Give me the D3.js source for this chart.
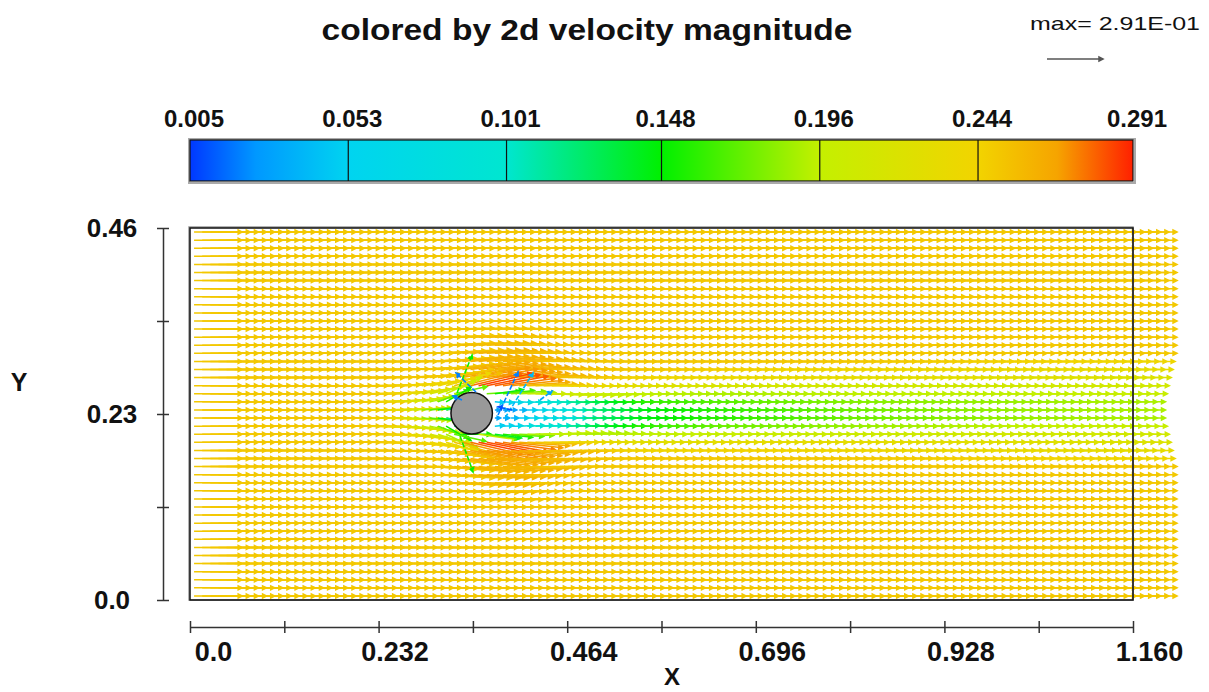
<!DOCTYPE html>
<html>
<head>
<meta charset="utf-8">
<script src="https://cdn.jsdelivr.net/npm/d3@7"></script>
<style>
body { margin: 0; background: #fff; }
svg text { font-family: "Liberation Sans", Arial, Helvetica, sans-serif; font-weight: bold; fill: #111; }
</style>
</head>
<body>
<div id="chart"></div>
<script>
// colour legend
var legendValues = [0.005, 0.053, 0.101, 0.148, 0.196, 0.244, 0.291];
var legendLabels = ["0.005", "0.053", "0.101", "0.148", "0.196", "0.244", "0.291"];
var colorStops = [0.005, 0.025, 0.053, 0.101, 0.148, 0.196, 0.244, 0.268, 0.291];
var colorList = ["#0038ff", "#0098ff", "#00d4f0", "#00e6d0", "#00f000", "#c4f000", "#f2d400", "#f6a400", "#ff2000"];
var maxSpeed = 0.291;

// axes
var xTicks = [0, 0.116, 0.232, 0.348, 0.464, 0.58, 0.696, 0.812, 0.928, 1.044, 1.16];
var xTickLabels = ["0.0", "", "0.232", "", "0.464", "", "0.696", "", "0.928", "", "1.160"];
var yTicks = [0, 0.115, 0.23, 0.345, 0.46];
var yTickLabels = ["0.0", "", "0.23", "", "0.46"];

// mesh of vector tails (cell centres)
var gridStart = 0.005, gridStep = 0.01, nCols = 116, nRows = 46;
var freeStream = 0.25;

// cylinder
var cylX = 0.3465, cylY = 0.231, cylR = 0.0255;

// speed profiles across the wake, rows top to bottom
var profileY = [0.335, 0.325, 0.315, 0.305, 0.295, 0.285, 0.275, 0.265, 0.255, 0.245, 0.235,
                0.225, 0.215, 0.205, 0.195, 0.185, 0.175, 0.165, 0.155, 0.145, 0.135, 0.125];
var speedStations = [0.205, 0.255, 0.295, 0.315, 0.335, 0.355, 0.375, 0.395, 0.415, 0.445, 0.485, 0.545, 0.645, 0.795, 0.995, 1.155];
var speedProfiles = [
  [.25,.25,.25,.25,.25,.25,.25,.25,.25,.25,.25,.25,.25,.25,.25,.25,.25,.25,.25,.25,.25,.25],
  [.25,.25,.25,.25,.25,.25,.25,.245,.24,.23,.225,.225,.23,.24,.245,.25,.25,.25,.25,.25,.25,.25],
  [.25,.25,.25,.25,.25,.25,.25,.24,.215,.19,.17,.17,.19,.215,.24,.25,.25,.25,.25,.25,.25,.25],
  [.25,.25,.25,.25,.25,.25,.25,.24,.2,.15,.12,.12,.15,.19,.235,.25,.25,.25,.25,.25,.25,.25],
  [.25,.25,.255,.255,.26,.26,.265,.27,.15,.1,.1,.1,.1,.15,.27,.265,.26,.26,.255,.255,.25,.25],
  [.25,.255,.255,.26,.26,.265,.27,.285,.2,.1,.1,.1,.1,.2,.285,.27,.265,.26,.26,.255,.255,.25],
  [.25,.255,.255,.26,.26,.265,.27,.28,.15,.05,.03,.03,.05,.14,.28,.27,.265,.26,.26,.255,.255,.25],
  [.25,.25,.255,.255,.26,.26,.265,.27,.18,.06,.03,.04,.06,.17,.27,.265,.26,.26,.255,.255,.25,.25],
  [.25,.25,.25,.255,.255,.26,.26,.255,.2,.08,.05,.06,.09,.19,.255,.26,.26,.255,.255,.25,.25,.25],
  [.25,.25,.25,.25,.25,.255,.255,.245,.21,.1,.08,.08,.1,.2,.245,.255,.255,.25,.25,.25,.25,.25],
  [.25,.25,.25,.25,.25,.25,.25,.235,.2,.13,.12,.12,.13,.19,.235,.25,.25,.25,.25,.25,.25,.25],
  [.25,.25,.25,.25,.25,.25,.24,.225,.195,.16,.145,.145,.16,.195,.225,.24,.25,.25,.25,.25,.25,.25],
  [.25,.25,.25,.25,.25,.245,.235,.215,.19,.17,.16,.16,.175,.2,.23,.245,.25,.25,.25,.25,.25,.25],
  [.25,.25,.25,.25,.25,.24,.23,.21,.195,.18,.175,.175,.185,.205,.23,.24,.25,.25,.25,.25,.25,.25],
  [.25,.25,.25,.25,.245,.235,.225,.21,.195,.185,.185,.185,.195,.21,.225,.235,.245,.25,.25,.25,.25,.25],
  [.25,.25,.25,.25,.24,.23,.22,.21,.2,.19,.19,.19,.2,.21,.22,.23,.24,.25,.25,.25,.25,.25]
];

// flow angle (degrees, + is upward) across the same rows
var angleStations = [0.205, 0.255, 0.295, 0.315, 0.335, 0.355, 0.375, 0.395, 0.415, 0.445, 0.485, 0.545];
var angleProfiles = [
  [0,0,0,0,0,0,0,0,0,0,0,0,0,0,0,0,0,0,0,0,0,0],
  [0,0,0,0,0,1,2,3,4,4,2,-2,-4,-4,-3,-2,-1,0,0,0,0,0],
  [0,1,1,2,3,4,6,9,12,12,5,-5,-12,-12,-9,-6,-4,-3,-2,-1,-1,0],
  [1,2,3,4,5,7,10,16,25,30,10,-10,-30,-25,-16,-10,-7,-5,-4,-3,-2,-1],
  [1,2,3,4,6,8,10,14,0,0,0,0,0,0,-14,-10,-8,-6,-4,-3,-2,-1],
  [1,2,3,4,6,8,11,13,0,0,0,0,0,-8,-12,-10,-8,-6,-4,-3,-2,-1],
  [1,1,2,3,5,6,8,10,8,-5,0,0,5,-8,-10,-8,-6,-5,-3,-2,-1,-1],
  [0,1,1,2,3,4,6,6,4,-3,0,0,3,-4,-6,-6,-4,-3,-2,-1,-1,0],
  [0,0,1,1,2,2,3,2,0,-2,0,0,2,0,-2,-3,-2,-2,-1,-1,0,0],
  [0,0,0,0,1,1,1,0,-2,-2,0,0,2,2,0,-1,-1,0,0,0,0,0],
  [0,0,0,0,0,0,0,0,-2,-1,0,0,1,2,0,0,0,0,0,0,0,0],
  [0,0,0,0,0,0,0,0,0,0,0,0,0,0,0,0,0,0,0,0,0,0]
];

// stray vectors near the cylinder: x, y, u, v, coloured magnitude
var oddX = [0.3285, 0.3322, 0.3518, 0.3346, 0.3789, 0.3875, 0.4306, 0.3961];
var oddY = [0.256, 0.2028, 0.2572, 0.2473, 0.2288, 0.2251, 0.2473, 0.235];
var oddU = [0.078, 0.0676, -0.104, -0.047, 0.104, 0.1455, 0.0624, -0.073];
var oddV = [0.1975, -0.187, 0.0988, 0.021, 0.2235, 0.234, 0.0468, 0.016];
var oddMag = [0.15, 0.15, 0.02, 0.02, 0.02, 0.04, 0.03, 0.01];

var width = 1209, height = 692;
var svg = d3.select("#chart").append("svg")
    .attr("width", width)
    .attr("height", height);

var x = d3.scaleLinear().domain([0, 1.16]).range([190, 1133]);
var y = d3.scaleLinear().domain([0, 0.46]).range([600, 228]);
var color = d3.scaleLinear().domain(colorStops).range(colorList).clamp(true);
var arrowLen = d3.scaleLinear().domain([0, maxSpeed]).range([0, 56]);

// one scale per wake row, speed and angle along x
var speedRow = profileY.map(function (py, r) {
    return d3.scaleLinear().domain(speedStations)
        .range(speedProfiles.map(function (p) { return p[r]; })).clamp(true);
});
var angleRow = profileY.map(function (py, r) {
    return d3.scaleLinear().domain(angleStations)
        .range(angleProfiles.map(function (p) { return p[r]; })).clamp(true);
});

function arrowPath(x0, y0, dx, dy) {
    var len = Math.sqrt(dx * dx + dy * dy);
    if (len < 0.5) return "";
    var ux = dx / len, uy = dy / len;
    var hl = Math.min(4, len * 0.6), hw = hl * 0.5;
    var x1 = x0 + dx, y1 = y0 + dy;
    var bx = x1 - ux * hl, by = y1 - uy * hl;
    return "M" + x0 + "," + y0 + "L" + x1 + "," + y1 +
        "M" + (bx - uy * hw) + "," + (by + ux * hw) + "L" + x1 + "," + y1 +
        "L" + (bx + uy * hw) + "," + (by - ux * hw) + "Z";
}

// build the field
var vectors = [];
for (var j = nRows - 1; j >= 0; j--) {
    var gy = gridStart + j * gridStep;
    var r = profileY.findIndex(function (p) { return Math.abs(p - gy) < 0.001; });
    for (var i = 0; i < nCols; i++) {
        var gx = gridStart + i * gridStep;
        var px = x(gx), py = y(gy);
        var ddx = px - x(cylX), ddy = py - y(cylY);
        if (Math.sqrt(ddx * ddx + ddy * ddy) < (x(cylR) - x(0)) + 1) continue;
        var s = r >= 0 ? speedRow[r](gx) : freeStream;
        var a = r >= 0 ? angleRow[r](gx) * Math.PI / 180 : 0;
        vectors.push({ x: gx, y: gy, u: s * Math.cos(a), v: s * Math.sin(a), m: s });
    }
}

svg.append("g")
    .selectAll("path")
    .data(vectors)
    .enter()
    .append("path")
    .attr("d", function (d) {
        return arrowPath(x(d.x), y(d.y), arrowLen(d.u), -arrowLen(d.v));
    })
    .attr("stroke", function (d) { return color(d.m); })
    .attr("fill", function (d) { return color(d.m); })
    .attr("stroke-width", 1.5);

// cylinder
svg.append("circle")
    .attr("cx", x(cylX))
    .attr("cy", y(cylY))
    .attr("r", x(cylR) - x(0))
    .attr("fill", "#999")
    .attr("stroke", "#111")
    .attr("stroke-width", 1.5);

var odd = oddX.map(function (v, k) {
    return { x: v, y: oddY[k], u: oddU[k], v: oddV[k], m: oddMag[k] };
});
svg.append("g")
    .selectAll("path")
    .data(odd)
    .enter()
    .append("path")
    .attr("d", function (d) {
        return arrowPath(x(d.x), y(d.y), arrowLen(d.u), -arrowLen(d.v));
    })
    .attr("stroke", function (d) { return color(d.m); })
    .attr("fill", function (d) { return color(d.m); })
    .attr("stroke-width", 1.6)
    .attr("stroke-dasharray", "5,2");

// plot frame
svg.append("rect")
    .attr("x", x(0) - 1)
    .attr("y", y(0.46) - 1)
    .attr("width", x(1.16) - x(0) + 1)
    .attr("height", y(0) - y(0.46) + 1)
    .attr("fill", "none")
    .attr("stroke", "#999")
    .attr("stroke-width", 1.5);
svg.append("rect")
    .attr("x", x(0))
    .attr("y", y(0.46))
    .attr("width", x(1.16) - x(0))
    .attr("height", y(0) - y(0.46))
    .attr("fill", "none")
    .attr("stroke", "#111")
    .attr("stroke-width", 1.5);

// x axis
var xAxis = svg.append("g")
    .attr("transform", "translate(0,627)")
    .call(d3.axisBottom(x).tickValues(xTicks).tickSize(6).tickSizeOuter(0)
        .tickFormat(function (d, i) { return xTickLabels[i]; }));
xAxis.select(".domain").attr("stroke", "#333").attr("stroke-width", 1.5);
xAxis.selectAll(".tick line").attr("y1", -6).attr("y2", 6).attr("stroke", "#333").attr("stroke-width", 1.5);
xAxis.selectAll(".tick text")
    .attr("y", 15)
    .attr("dx", function (d, i) { return i === 0 ? 23 : 16; })
    .attr("font-size", 27)
    .attr("font-family", null)
    .attr("fill", "#111");

// y axis
var yAxis = svg.append("g")
    .attr("transform", "translate(163,0)")
    .call(d3.axisLeft(y).tickValues(yTicks).tickSize(6).tickSizeOuter(0)
        .tickFormat(function (d, i) { return yTickLabels[i]; }));
yAxis.select(".domain").attr("stroke", "#333").attr("stroke-width", 1.5);
yAxis.selectAll(".tick line").attr("x1", -6).attr("x2", 6).attr("stroke", "#333").attr("stroke-width", 1.5);
yAxis.selectAll(".tick text")
    .attr("x", -51)
    .attr("text-anchor", "middle")
    .attr("font-size", 26)
    .attr("font-family", null)
    .attr("fill", "#111");

svg.append("text").attr("x", 672).attr("y", 685).attr("text-anchor", "middle")
    .attr("font-size", 24).text("X");
svg.append("text").attr("x", 19).attr("y", 391).attr("text-anchor", "middle")
    .attr("font-size", 25).text("Y");

// colour bar
var grad = svg.append("defs").append("linearGradient").attr("id", "cbar");
colorStops.forEach(function (v, k) {
    grad.append("stop")
        .attr("offset", (v - colorStops[0]) / (maxSpeed - colorStops[0]))
        .attr("stop-color", colorList[k]);
});
var cb = d3.scaleLinear().domain([legendValues[0], maxSpeed]).range([190, 1133]);
svg.append("rect").attr("x", 189).attr("y", 139).attr("width", 946).attr("height", 44)
    .attr("fill", "none").attr("stroke", "#aaa").attr("stroke-width", 2);
svg.append("rect").attr("x", cb(legendValues[0])).attr("y", 140)
    .attr("width", cb(maxSpeed) - cb(legendValues[0])).attr("height", 41)
    .attr("fill", "url(#cbar)").attr("stroke", "#111").attr("stroke-width", 1.2);
svg.selectAll(".cdiv")
    .data(legendValues.slice(1, -1))
    .enter()
    .append("line")
    .attr("x1", function (d) { return cb(d); })
    .attr("x2", function (d) { return cb(d); })
    .attr("y1", 140).attr("y2", 181)
    .attr("stroke", "#111").attr("stroke-width", 1.2);
svg.selectAll(".clab")
    .data(legendValues)
    .enter()
    .append("text")
    .attr("x", function (d) { return cb(d) + 4; })
    .attr("y", 127)
    .attr("text-anchor", "middle")
    .attr("font-size", 24)
    .text(function (d, i) { return legendLabels[i]; });

// title and reference vector
svg.append("text").attr("x", 587).attr("y", 40).attr("text-anchor", "middle")
    .attr("font-size", 30).attr("textLength", 531).attr("lengthAdjust", "spacingAndGlyphs")
    .text("colored by 2d velocity magnitude");
svg.append("text").attr("x", 1030).attr("y", 30)
    .attr("font-size", 19).style("font-weight", "normal")
    .attr("textLength", 170).attr("lengthAdjust", "spacingAndGlyphs")
    .text("max= 2.91E-01");
svg.append("path")
    .attr("d", arrowPath(1047, 59, arrowLen(maxSpeed), 0))
    .attr("stroke", "#555").attr("fill", "#111").attr("stroke-width", 1.5);
</script>
</body>
</html>
